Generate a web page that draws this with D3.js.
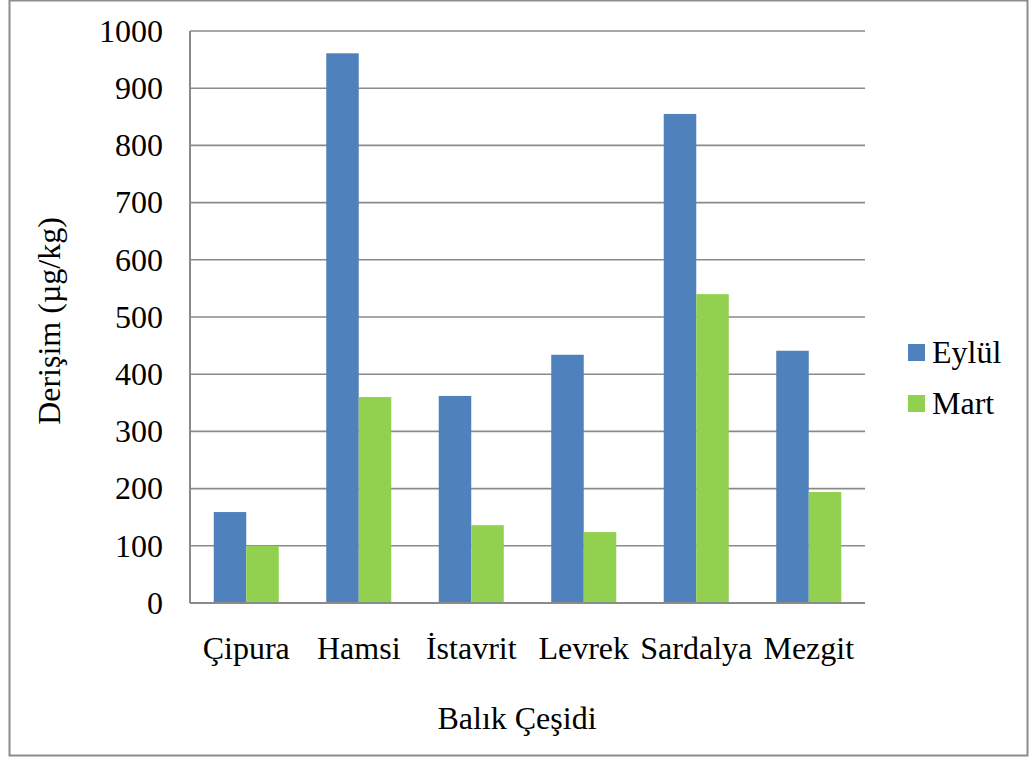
<!DOCTYPE html>
<html>
<head>
<meta charset="utf-8">
<script src="https://cdn.jsdelivr.net/npm/d3@7/dist/d3.min.js"></script>
<style>
  html, body { margin: 0; padding: 0; background: #fff; }
  svg { display: block; }
</style>
</head>
<body>
<svg id="chart" width="1030" height="760"></svg>
<script>
// Fish species and measured concentrations (µg/kg) by sampling month
const categories = ["Çipura", "Hamsi", "İstavrit", "Levrek", "Sardalya", "Mezgit"];
const seriesNames = ["Eylül", "Mart"];
const eylul = [159, 961, 362, 434, 855, 441];
const mart = [100, 360, 136, 124, 540, 194];
const yTicks = [0, 100, 200, 300, 400, 500, 600, 700, 800, 900, 1000];
const colors = ["#4F81BD", "#92D050"];

const FONT = "'Liberation Serif', 'Times New Roman', serif";
const svg = d3.select("#chart");

// outer frame
svg.append("rect")
  .attr("x", 9.5).attr("y", 0.5)
  .attr("width", 1018).attr("height", 755)
  .attr("fill", "#fff")
  .attr("stroke", "#8c8c8c")
  .attr("stroke-width", 2);

const plot = { left: 190, right: 865, top: 31, bottom: 603 };

const y = d3.scaleLinear().domain([0, 1000]).range([plot.bottom, plot.top]);
const x0 = d3.scaleBand().domain(categories).range([plot.left, plot.right]).padding(0);
const groupWidth = x0.bandwidth() * 0.578;
const x1 = d3.scaleBand().domain(seriesNames).range([0, groupWidth]).padding(0);

// horizontal gridlines
svg.append("g")
  .selectAll("line")
  .data(yTicks.filter(d => d > 0))
  .join("line")
  .attr("x1", plot.left).attr("x2", plot.right)
  .attr("y1", d => y(d)).attr("y2", d => y(d))
  .attr("stroke", "#8a8a8a")
  .attr("stroke-width", 1.6);

// y axis labels
const yAxis = d3.axisLeft(y).tickValues(yTicks).tickFormat(d3.format("d")).tickSize(0).tickPadding(27);
const gy = svg.append("g").attr("transform", `translate(${plot.left},0)`).call(yAxis);
gy.select(".domain").remove();
gy.selectAll("text")
  .style("font-family", FONT)
  .style("font-size", "32px")
  .attr("fill", "#000");

// bars
const rows = categories.map((c, i) => ({ cat: c, values: [eylul[i], mart[i]] }));
const groups = svg.append("g")
  .selectAll("g")
  .data(rows)
  .join("g")
  .attr("transform", d => `translate(${x0(d.cat) + (x0.bandwidth() - groupWidth) / 2},0)`);

groups.selectAll("rect")
  .data(d => d.values.map((v, j) => ({ key: seriesNames[j], value: v, j })))
  .join("rect")
  .attr("x", d => x1(d.key))
  .attr("width", x1.bandwidth())
  .attr("y", d => y(d.value))
  .attr("height", d => y(0) - y(d.value))
  .attr("fill", d => colors[d.j]);

// axis lines
svg.append("line")
  .attr("x1", plot.left).attr("x2", plot.left)
  .attr("y1", plot.top).attr("y2", plot.bottom)
  .attr("stroke", "#8a8a8a").attr("stroke-width", 2);
svg.append("line")
  .attr("x1", plot.left).attr("x2", plot.right)
  .attr("y1", plot.bottom).attr("y2", plot.bottom)
  .attr("stroke", "#8a8a8a").attr("stroke-width", 2);

// x axis labels
const xAxis = d3.axisBottom(x0).tickSize(0).tickPadding(33);
const gx = svg.append("g").attr("transform", `translate(0,${plot.bottom})`).call(xAxis);
gx.select(".domain").remove();
gx.selectAll("text")
  .style("font-family", FONT)
  .style("font-size", "32px")
  .attr("fill", "#000");

// axis titles
svg.append("text")
  .attr("x", 517).attr("y", 729)
  .attr("text-anchor", "middle")
  .style("font-family", FONT)
  .style("font-size", "32px")
  .attr("fill", "#000")
  .text("Balık Çeşidi");

svg.append("text")
  .attr("transform", "translate(60,321) rotate(-90)")
  .attr("text-anchor", "middle")
  .style("font-family", FONT)
  .style("font-size", "32px")
  .attr("fill", "#000")
  .text("Derişim (µg/kg)");

// legend
const legend = svg.append("g")
  .selectAll("g")
  .data(seriesNames)
  .join("g")
  .attr("transform", (d, i) => `translate(908,${344 + i * 51})`);
legend.append("rect")
  .attr("width", 17).attr("height", 17)
  .attr("fill", (d, i) => colors[i]);
legend.append("text")
  .attr("x", 24).attr("y", 19)
  .style("font-family", FONT)
  .style("font-size", "32px")
  .attr("fill", "#000")
  .text(d => d);
</script>
</body>
</html>
